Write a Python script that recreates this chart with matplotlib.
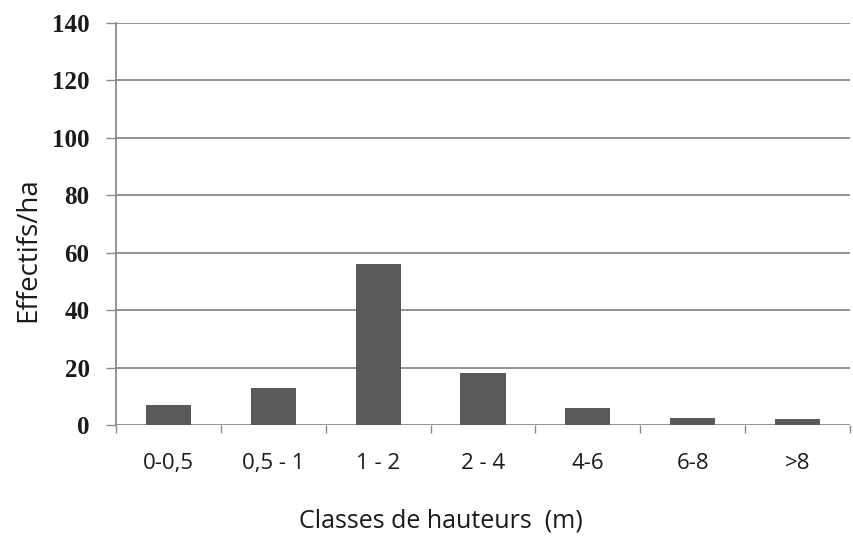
import matplotlib
matplotlib.use("Agg")
import matplotlib.pyplot as plt
import numpy as np

categories = ["0-0,5", "0,5 - 1", "1 - 2", "2 - 4", "4-6", "6-8", ">8"]
values = [7, 13, 56, 18, 6, 2.5, 2]
yticks = [0, 20, 40, 60, 80, 100, 120, 140]

sans = ["Open Sans", "DejaVu Sans"]

fig = plt.figure(figsize=(8.54, 5.42), dpi=100)
ax = fig.add_axes([116/854, 1-425/542, (850-116)/854, (425-23)/542])

x = np.arange(len(categories))
ax.bar(x, values, width=0.43, color="#595959", zorder=3)

ax.set_xlim(-0.5, len(categories) - 0.5)
ax.set_ylim(0, 140)
ax.set_yticks(yticks)
ax.set_yticklabels([str(t) for t in yticks], fontfamily=["Liberation Serif", "DejaVu Serif"],
                   fontweight="bold", fontsize=18, color="#1a1a1a")
for t in yticks:
    ax.axhline(t, color="#8a8a8a", linewidth=1.3, zorder=1)

ax.set_xticks(x)
ax.set_xticklabels(categories, fontfamily=sans, fontsize=16, color="#1a1a1a")
ax.set_xticks(np.arange(len(categories) + 1) - 0.5, minor=True)
ax.tick_params(axis="x", which="major", length=0, pad=20)
ax.tick_params(axis="x", which="minor", length=6, color="#8a8a8a", width=1)
ax.tick_params(axis="y", length=7, color="#8a8a8a", width=1, pad=12)

for s in ["top", "right", "bottom"]:
    ax.spines[s].set_visible(False)
ax.spines["left"].set_color("#8a8a8a")
ax.spines["left"].set_linewidth(1.3)

ax.set_ylabel("Effectifs/ha", fontfamily=sans, fontsize=20, color="#1a1a1a")
ax.yaxis.set_label_coords((42 - 116) / 734, (425 - 250) / 402)
ax.set_xlabel("Classes de hauteurs  (m)", fontfamily=sans, fontsize=18, color="#1a1a1a")
ax.xaxis.set_label_coords((441 - 116) / 734, -(508 - 425) / 402)

fig.savefig("out.png", dpi=100)
